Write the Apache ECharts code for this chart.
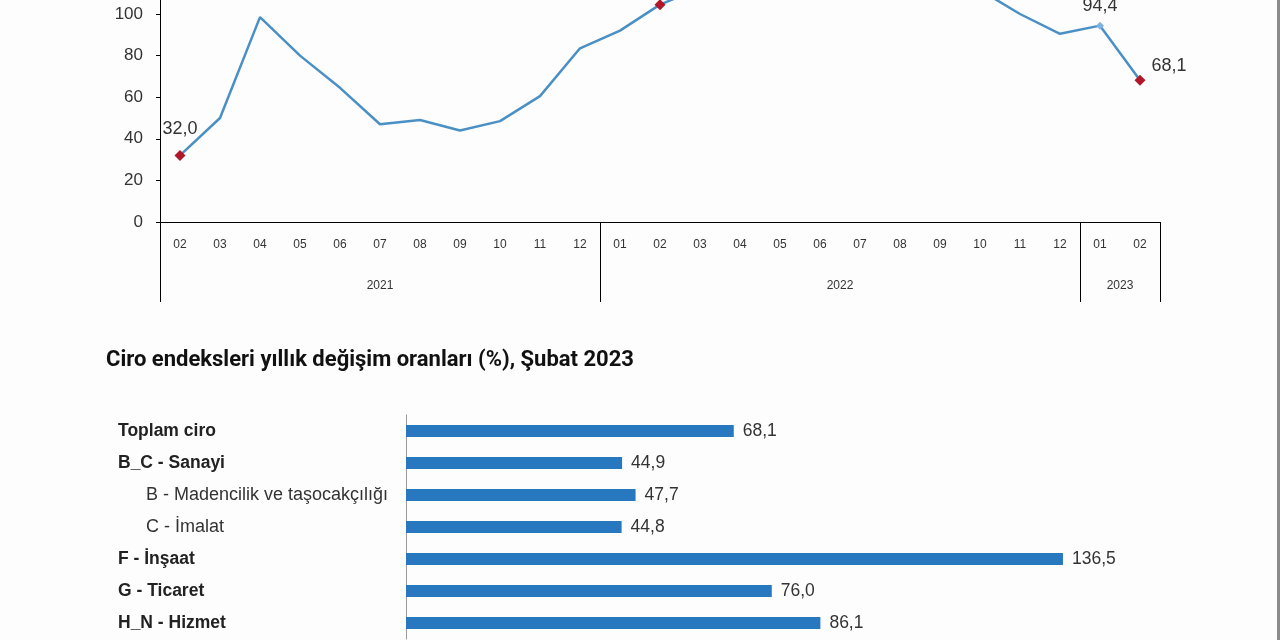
<!DOCTYPE html>
<html>
<head>
<meta charset="utf-8">
<script src="https://cdn.jsdelivr.net/npm/echarts@6/dist/echarts.min.js"></script>
<style>
  html, body { margin: 0; padding: 0; background: #fff; }
  #chart { width: 1277px; height: 640px; border-right: 3px solid #8c8c8c; background: #fdfdfd; }
</style>
</head>
<body>
<div id="chart"></div>
<script>
// line chart: annual change of total turnover, 2021-02 .. 2023-02
const months = ['02', '03', '04', '05', '06', '07', '08', '09', '10', '11', '12',
  '01', '02', '03', '04', '05', '06', '07', '08', '09', '10', '11', '12',
  '01', '02']
const years = ['2021', '2022', '2023']
const monthsPerYear = [11, 12, 2]
const totalChange = [32.0, 50.0, 98.5, 80.0, 64.5, 47.0, 49.0, 44.0, 48.5, 60.5, 83.5,
  92.0, 104.5, 112.5, 122.0, 131.0, 140.0, 136.0, 135.0, 128.0, 111.5, 100.0, 90.5,
  94.4, 68.1]

// bar chart: Şubat 2023
const sectors = ['Toplam ciro', 'B_C - Sanayi', 'B - Madencilik ve taşocakçılığı', 'C - İmalat',
  'F - İnşaat', 'G - Ticaret', 'H_N - Hizmet']
const sectorLevel = [0, 0, 1, 1, 0, 0, 0]
const sectorChange = [68.1, 44.9, 47.7, 44.8, 136.5, 76.0, 86.1]

const fmt = v => v.toFixed(1).replace('.', ',')
const font = '"Liberation Sans", Arial, sans-serif'

// year boundaries on the month axis
const yearBounds = [0]
monthsPerYear.forEach(n => yearBounds.push(yearBounds[yearBounds.length - 1] + n))
const yearCenters = years.map((y, i) => (yearBounds[i] + yearBounds[i + 1]) / 2)

const last = totalChange.length - 1
const redMark = [0, 12, last]
const lineData = totalChange.map((v, i) => {
  const item = { value: v }
  if (redMark.includes(i)) {
    item.symbol = 'diamond'
    item.symbolSize = 11
    item.itemStyle = { color: '#b0182a' }
  } else if (i === last - 1) {
    item.symbol = 'diamond'
    item.symbolSize = 8
    item.itemStyle = { color: '#7fb2de' }
  }
  if (i === 0 || i === 12) {
    item.label = { show: true, position: 'top', distance: 12 }
  } else if (i === last - 1) {
    item.label = { show: true, position: 'top', distance: 7 }
  } else if (i === last) {
    item.label = { show: true, position: 'right', offset: [0, -14], distance: 6 }
  }
  return item
})

const chart = echarts.init(document.getElementById('chart'))
chart.setOption({
  animation: false,
  textStyle: { fontFamily: font },
  title: {
    text: 'Ciro endeksleri yıllık değişim oranları (%), Şubat 2023',
    left: 101,
    top: 344,
    textStyle: { fontFamily: 'Roboto', fontWeight: 'bold', fontSize: 22, color: '#111' }
  },
  grid: [
    { left: 160, width: 1000, top: -110.8, height: 332.8, outerBoundsMode: 'none' },
    { left: 406, top: 415, height: 224, width: 962.6, outerBoundsMode: 'none' }
  ],
  xAxis: [
    {
      type: 'category', gridIndex: 0, data: months,
      axisLine: { lineStyle: { color: '#000', width: 1 } },
      axisTick: { interval: 0, length: 40, lineStyle: { color: '#000' } },
      axisLabel: { interval: 0, margin: 17, fontSize: 12, color: '#333' }
    },
    {
      type: 'category', gridIndex: 0, data: months,
      axisLine: { show: false },
      axisTick: { interval: 0, alignWithLabel: true, length: 4, lineStyle: { color: '#000' } },
      axisLabel: { show: false }
    },
    {
      type: 'value', gridIndex: 0, min: 0, max: months.length, position: 'bottom',
      axisLine: { show: false },
      splitLine: { show: false },
      axisTick: { show: true, customValues: yearBounds, length: 80, lineStyle: { color: '#000' } },
      axisLabel: {
        customValues: yearCenters, margin: 58, fontSize: 12, color: '#333',
        formatter: v => years[yearCenters.indexOf(v)]
      }
    },
    {
      type: 'value', gridIndex: 1, min: 0, max: 200, show: false
    }
  ],
  yAxis: [
    {
      type: 'value', gridIndex: 0, min: 0, max: 160, interval: 20,
      axisLine: { show: true, lineStyle: { color: '#000' } },
      axisTick: { show: true, length: 4, lineStyle: { color: '#000' } },
      splitLine: { show: false },
      axisLabel: { fontSize: 17, color: '#333', margin: 17 }
    },
    {
      type: 'category', gridIndex: 1, data: sectors, inverse: true,
      axisLine: { lineStyle: { color: '#999' } },
      axisTick: { show: false },
      axisLabel: {
        align: 'left', margin: 288, interval: 0,
        formatter: (v, i) => sectorLevel[i] ? '{s|' + v + '}' : '{b|' + v + '}',
        rich: {
          b: { fontFamily: font, fontSize: 17.5, fontWeight: 'bold', color: '#222' },
          s: { fontFamily: font, fontSize: 18, color: '#333', padding: [0, 0, 0, 28] }
        }
      }
    }
  ],
  series: [
    {
      type: 'line', xAxisIndex: 0, yAxisIndex: 0, data: lineData,
      symbol: 'none', showSymbol: true,
      lineStyle: { color: '#4a90c4', width: 2.5 },
      itemStyle: { color: '#4a90c4' },
      label: { fontSize: 18, color: '#333', formatter: p => fmt(p.value) }
    },
    {
      type: 'bar', xAxisIndex: 3, yAxisIndex: 1, data: sectorChange,
      barWidth: 12,
      itemStyle: { color: '#2878c0' },
      label: { show: true, position: 'right', distance: 9, fontSize: 17.5, color: '#333', formatter: p => fmt(p.value) }
    }
  ]
})
</script>
</body>
</html>
